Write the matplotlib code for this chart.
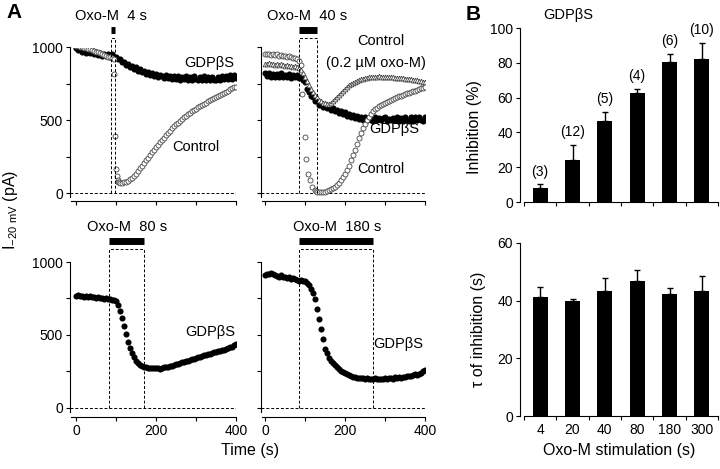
import numpy as np
import matplotlib
matplotlib.use('Agg')
from matplotlib import pyplot as plt

plt.rcParams['font.family'] = ['Liberation Sans', 'DejaVu Sans']
plt.rcParams['font.size'] = 10
plt.rcParams['mathtext.default'] = 'regular'

### Data, panel A (current at -20 mV, pA) ###

t5 = np.arange(0, 401, 5)  # 5 s sampling grid

# Oxo-M 4 s
gdp_4s = [995, 980, 992, 972, 986, 965, 978, 960, 974,
          955, 968, 950, 962, 945, 958, 940, 955, 938,
          952, 935, 936, 918, 920, 898, 902, 880, 888,
          868, 876, 852, 866, 842, 852, 830, 842, 820,
          832, 810, 825, 802, 820, 798, 812, 804, 792,
          810, 790, 806, 784, 804, 782, 802, 780, 800,
          782, 804, 778, 800, 776, 802, 782, 776, 800,
          780, 804, 776, 798, 774, 800, 780, 774, 798,
          778, 802, 782, 805, 784, 808, 786, 808, 792]
ctl_4s_t = np.concatenate([np.arange(0, 96, 5),
                           [96, 98, 100, 102, 104, 106, 108, 110],
                           np.arange(115, 401, 5)])
ctl_4s = [1012, 1010, 1005, 1003, 998, 995, 990, 987, 982, 978,
          972, 968, 962, 956, 950, 945, 938, 932, 926, 920,
          820, 392, 169, 116, 92, 80, 74, 72,
          72, 74, 78, 85, 95, 105, 118, 132, 150, 170,
          190, 210, 228, 245, 265, 282, 300, 315, 333, 350,
          365, 382, 398, 415, 430, 445, 460, 472, 485, 497,
          510, 520, 532, 542, 553, 562, 572, 580, 590, 598,
          606, 614, 622, 630, 638, 645, 652, 660, 667, 674,
          682, 690, 698, 705, 712, 720, 726, 732]

# Oxo-M 40 s
gdp_40s = [825, 805, 826, 800, 820, 798, 818, 796, 822,
           800, 812, 798, 816, 792, 814, 795, 812, 792,
           800, 780, 766, 716, 698, 664, 658, 632, 630,
           608, 612, 592, 606, 582, 592, 572, 584, 564,
           574, 552, 566, 542, 556, 532, 546, 524, 536,
           516, 530, 508, 524, 502, 520, 500, 516, 502,
           498, 520, 500, 514, 502, 516, 520, 499, 512,
           502, 518, 500, 520, 496, 518, 498, 522, 500,
           496, 520, 498, 522, 500, 524, 502, 498, 520]
ctl_40s_t = np.concatenate([np.arange(0, 91, 5),
                            [93, 99, 103, 107, 112, 118, 124, 128],
                            np.arange(130, 401, 5)])
ctl_40s = [955, 952, 958, 950, 954, 948, 952, 945, 948, 942,
           945, 938, 940, 935, 930, 925, 918, 905, 880,
           683, 386, 237, 135, 89, 43, 22, 14,
           12, 10, 9, 10, 12, 15, 20, 27, 35, 44,
           55, 70, 90, 112, 135, 160, 190, 225, 262, 300,
           340, 380, 415, 448, 478, 503, 525, 545, 562, 576,
           588, 598, 606, 614, 621, 628, 635, 642, 648, 654,
           660, 665, 670, 675, 680, 685, 690, 695, 700, 705,
           710, 715, 720, 725, 730]
low_40s = [890, 885, 892, 884, 888, 880, 886, 878, 884,
           880, 875, 878, 872, 876, 868, 872, 865, 858,
           845, 825, 800, 772, 745, 718, 695, 675, 658,
           642, 630, 622, 616, 612, 614, 620, 630, 645,
           660, 675, 690, 705, 718, 730, 740, 750, 758,
           765, 772, 778, 783, 787, 790, 793, 795, 797,
           799, 800, 801, 802, 801, 800, 799, 798, 797,
           796, 795, 794, 793, 792, 790, 789, 787, 785,
           783, 781, 779, 777, 775, 772, 769, 766, 763]

# Oxo-M 80 s
gdp_80s = [768, 772, 765, 770, 762, 767, 760, 764, 758,
           762, 755, 758, 752, 756, 748, 752, 745, 748,
           742, 738, 732, 705, 665, 615, 560, 505, 455,
           410, 375, 348, 325, 308, 296, 288, 282, 278,
           276, 274, 272, 275, 271, 273, 270, 274, 278,
           280, 283, 287, 290, 294, 298, 303, 308, 312,
           316, 320, 325, 330, 334, 338, 343, 348, 352,
           356, 360, 364, 368, 372, 376, 380, 384, 388,
           392, 396, 400, 405, 410, 415, 420, 428, 435]

# Oxo-M 180 s
gdp_180s = [912, 920, 915, 922, 918, 910, 905, 900, 908,
            895, 900, 890, 895, 885, 890, 882, 875, 872,
            878, 870, 868, 858, 840, 818, 790, 745, 680,
            610, 540, 470, 405, 375, 345, 322, 308, 292,
            278, 266, 255, 245, 237, 230, 224, 219, 215,
            210, 208, 205, 204, 202, 200, 203, 199, 201,
            198, 202, 200, 197, 201, 199, 203, 198, 202,
            206, 200, 210, 205, 212, 208, 215, 212, 218,
            222, 218, 226, 230, 225, 235, 240, 250, 258]

stim_labels = ['Oxo-M  4 s', 'Oxo-M  40 s', 'Oxo-M  80 s', 'Oxo-M  180 s']
stim_on = [88, 85, 83, 85]
stim_off = [97, 130, 170, 270]
stim_text_x = [87, 105, 128, 180]

### Data, panel B ###

durations = ['4', '20', '40', '80', '180', '300']
n_cells = [3, 12, 5, 4, 6, 10]
inhibition = [7.9, 24.1, 46.7, 62.6, 80.5, 82.4]
inhibition_top = [10.3, 32.8, 51.9, 65.1, 85.2, 91.6]
tau = [41.4, 39.9, 43.4, 46.9, 42.3, 43.2]
tau_top = [44.7, 40.5, 47.9, 50.8, 44.4, 48.4]

### Figure ###

fig = plt.figure(figsize=(7.2, 4.69), dpi=100)


def px_axes(left, top, right, bottom):
    return fig.add_axes([left / 720, 1 - bottom / 469,
                         (right - left) / 720, (bottom - top) / 469])


def trace_axes(ax, ymin, xmin, show_y, show_x):
    ax.set_xlim(xmin, 400)
    ax.set_ylim(ymin, 1000)
    ax.spines[['top', 'right']].set_visible(False)
    ax.spines['left'].set_bounds(-25, 1000)
    ax.spines['bottom'].set_bounds(xmin + 3, 400)
    ax.set_xticks([0, 100, 200, 300, 400])
    ax.set_xticklabels(['0', '', '200', '', '400'] if show_x else [])
    ax.set_yticks([0, 250, 500, 750, 1000])
    ax.set_yticklabels(['0', '', '500', '', '1000'] if show_y else [])
    ax.tick_params(direction='out', length=3, width=0.8, pad=2, labelsize=10)
    ax.axhline(0, color='k', lw=0.7, ls=(0, (3, 2)))


def stimulus(ax, i, box_top, bar_y):
    on, off = stim_on[i], stim_off[i]
    ax.plot([on, on, off, off], [0, box_top, box_top, 0], color='k',
            lw=0.7, ls=(0, (3, 2)), clip_on=False)
    ax.plot([on, off], [bar_y, bar_y], color='k', lw=5,
            solid_capstyle='butt', clip_on=False)
    ax.text(stim_text_x[i], bar_y + 95, stim_labels[i], ha='center',
            va='center', fontsize=10.5)


filled = dict(ls='none', marker='o', ms=4.4, color='k', mew=0)
opened = dict(ls='none', marker='o', ms=3.6, mfc='white', mec='#444444', mew=0.6)

ax1 = px_axes(70, 47.5, 236, 201)
trace_axes(ax1, -53, -15, True, False)
ax1.plot(t5, gdp_4s, **filled)
ax1.plot(ctl_4s_t, ctl_4s, **opened)
stimulus(ax1, 0, 1068, 1118)
ax1.text(333, 897, 'GDPβS', ha='center', va='center', fontsize=10.5)
ax1.text(300, 315, 'Control', ha='center', va='center', fontsize=10.5)

ax2 = px_axes(261, 47.5, 425, 201)
trace_axes(ax2, -53, -10, False, False)
ax2.plot(t5, gdp_40s, **filled)
ax2.plot(t5, low_40s, **dict(opened, marker='^', ms=3.4))
ax2.plot(ctl_40s_t, ctl_40s, **opened)
stimulus(ax2, 1, 1068, 1118)
ax2.text(290, 1048, 'Control', ha='center', va='center', fontsize=10.5)
ax2.text(278, 897, '(0.2 µM oxo-M)', ha='center', va='center', fontsize=10.5)
ax2.text(322, 440, 'GDPβS', ha='center', va='center', fontsize=10.5)
ax2.text(290, 164, 'Control', ha='center', va='center', fontsize=10.5)

ax3 = px_axes(70, 262, 236, 417)
trace_axes(ax3, -62, -15, True, True)
ax3.plot(t5, gdp_80s, **filled)
stimulus(ax3, 2, 1089, 1143)
ax3.text(335, 520, 'GDPβS', ha='center', va='center', fontsize=10.5)

ax4 = px_axes(261, 262, 425, 417)
trace_axes(ax4, -62, -10, False, True)
ax4.plot(t5, gdp_180s, **filled)
stimulus(ax4, 3, 1089, 1143)
ax4.text(333, 438, 'GDPβS', ha='center', va='center', fontsize=10.5)

fig.text(10 / 720, 1 - 210 / 469, r'I$_{-20\ mV}$ (pA)', rotation=90,
         ha='center', va='center', fontsize=11.5)
fig.text(250 / 720, 1 - 450 / 469, 'Time (s)', ha='center', va='center',
         fontsize=11.5)
fig.text(14 / 720, 1 - 12 / 469, 'A', ha='center', va='center',
         fontsize=15, fontweight='bold')


def bar_axes(ax, vals, tops, ymax, step, label):
    x = np.arange(len(vals))
    ax.bar(x, vals, width=0.46, color='k')
    lo = np.zeros(len(vals))
    hi = np.array(tops) - np.array(vals)
    ax.errorbar(x, vals, yerr=[lo, hi], fmt='none', ecolor='k',
                elinewidth=1, capsize=2.3, capthick=1)
    ax.set_xlim(-0.624, 5.5)
    ax.set_ylim(0, ymax)
    ax.spines[['top', 'right']].set_visible(False)
    ax.spines['bottom'].set_bounds(-0.5, 5.5)
    ax.set_xticks(np.arange(-0.5, 6, 1))
    ax.set_xticklabels([])
    ax.set_yticks(np.arange(0, ymax + 1, step))
    ax.tick_params(direction='out', length=3, width=0.8, pad=2, labelsize=10)
    ax.set_ylabel(label, fontsize=11.5)
    return x


ax5 = px_axes(520, 28, 718, 202)
x = bar_axes(ax5, inhibition, inhibition_top, 100, 20, 'Inhibition (%)')
ax5.yaxis.set_label_coords(-0.19, 0.43)
for xi, top, n in zip(x, inhibition_top, n_cells):
    ax5.annotate(f'({n})', (xi, top), xytext=(0, 4), textcoords='offset points',
                 ha='center', va='bottom', fontsize=10)
fig.text(568 / 720, 1 - 15 / 469, 'GDPβS', ha='center', va='center',
         fontsize=10.5)
fig.text(473 / 720, 1 - 14 / 469, 'B', ha='center', va='center',
         fontsize=15, fontweight='bold')

ax6 = px_axes(520, 243, 718, 416)
x = bar_axes(ax6, tau, tau_top, 60, 20, 'τ of inhibition (s)')
ax6.yaxis.set_label_coords(-0.17, 0.5)
ax6.set_xticks(x, minor=True)
ax6.set_xticklabels(durations, minor=True)
ax6.tick_params(which='minor', length=0, pad=5, labelsize=10)
ax6.set_xlabel('Oxo-M stimulation (s)', fontsize=11.5, labelpad=4)

fig.savefig('out.png', dpi=100)
